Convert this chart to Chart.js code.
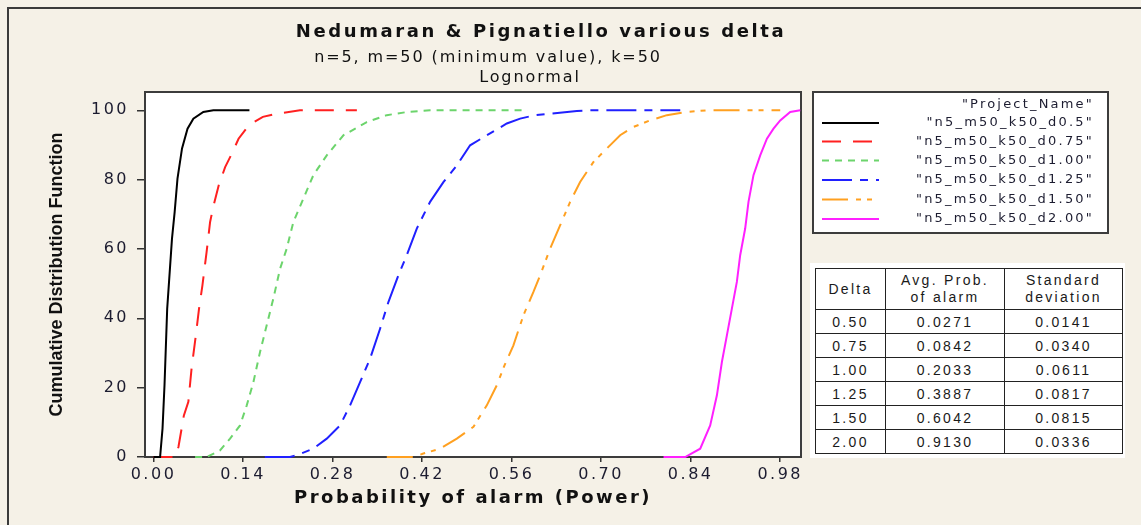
<!DOCTYPE html>
<html>
<head>
<meta charset="utf-8">
<script src="https://cdn.jsdelivr.net/npm/chart.js@4.4.1/dist/chart.umd.min.js"></script>
<style>
  html, body { margin: 0; padding: 0; background: #F5F1E7; }
  #wrap { position: relative; width: 1141px; height: 525px; overflow: hidden; }
  #plot { position: absolute; left: 0; top: 0; }
  #stats { position: absolute; left: 810px; top: 263px; width: 315px; height: 195px; background: #fff; }
  #stats table { position: absolute; left: 5px; top: 5px; border-collapse: collapse;
    font-family: "Liberation Sans", Arial, sans-serif; font-size: 14px; color: #1a1a1a; letter-spacing: 2.3px; }
  #stats td, #stats th { border: 1.5px solid #222; text-align: center; padding: 0; font-weight: normal; height: 23px; }
  #stats th { height: 40px; line-height: 17px; }
</style>
</head>
<body>
<div id="wrap">
  <canvas id="plot" width="1141" height="525"></canvas>
  <div id="stats"><table id="statTable"></table></div>
</div>
<script>
// Axis ticks
const xTicks = [0.00, 0.14, 0.28, 0.42, 0.56, 0.70, 0.84, 0.98];
const yTicks = [0, 20, 40, 60, 80, 100];

// Series names
const seriesNames = ['"n5_m50_k50_d0.5"', '"n5_m50_k50_d0.75"', '"n5_m50_k50_d1.00"',
                     '"n5_m50_k50_d1.25"', '"n5_m50_k50_d1.50"', '"n5_m50_k50_d2.00"'];

// Empirical CDF of the probability of alarm for each delta (power, cumulative %)
const d050Power = [0.000, 0.0103, 0.0141, 0.0172, 0.0214, 0.0289, 0.0331, 0.0375, 0.0446, 0.0532, 0.0623, 0.0779, 0.0936, 0.150];
const d050Cdf   = [0, 0, 8.2, 20.7, 42.8, 63.0, 70.7, 80.3, 89.0, 94.7, 97.6, 99.5, 100, 100];

const d075Power = [0.000, 0.034, 0.039, 0.0475, 0.0545, 0.0595, 0.0662, 0.0712, 0.0765, 0.083, 0.0885, 0.094, 0.102, 0.112, 0.1225, 0.133, 0.149, 0.171, 0.192, 0.229, 0.318];
const d075Cdf   = [0, 0, 2.9, 12.0, 15.9, 25.5, 35.1, 42.8, 49.5, 59.1, 67.8, 72.6, 78.4, 83.6, 87.5, 91.8, 95.7, 98.1, 99.0, 100, 100];

const d100Power = [0.065, 0.0832, 0.104, 0.1197, 0.1353, 0.1458, 0.1562, 0.1666, 0.177, 0.1874, 0.1979, 0.2083, 0.2187, 0.2343, 0.25, 0.2709, 0.2969, 0.3335, 0.3648, 0.396, 0.4325, 0.585];
const d100Cdf   = [0, 0, 1.9, 5.3, 9.1, 14.9, 21.6, 30.3, 38.0, 45.7, 54.3, 60.1, 67.8, 74.5, 81.3, 87.0, 92.8, 96.6, 98.6, 99.5, 100, 100];

const d125Power = [0.174, 0.2135, 0.224, 0.25, 0.2709, 0.2917, 0.3074, 0.323, 0.3387, 0.3543, 0.3673, 0.3829, 0.396, 0.4117, 0.4325, 0.4533, 0.4743, 0.4951, 0.5212, 0.5525, 0.5733, 0.5967, 0.62, 0.662, 0.68, 0.8237];
const d125Cdf   = [0, 0, 0.5, 2.4, 5.3, 9.1, 14.9, 21.6, 28.4, 37.0, 44.7, 52.4, 58.2, 65.9, 73.6, 79.3, 84.1, 89.9, 92.8, 96.2, 97.6, 98.6, 99.0, 99.8, 100, 100];

const d150Power = [0.3648, 0.4064, 0.422, 0.448, 0.4743, 0.5003, 0.5212, 0.5368, 0.549, 0.5628, 0.5785, 0.5941, 0.6046, 0.6202, 0.6358, 0.6515, 0.6671, 0.688, 0.7089, 0.7297, 0.7505, 0.7766, 0.8027, 0.834, 0.8653, 0.98];
const d150Cdf   = [0, 0, 1.0, 2.4, 5.3, 8.7, 14.9, 20.7, 26.5, 32.2, 40.9, 47.6, 52.4, 60.1, 66.8, 73.6, 79.3, 85.1, 89.0, 92.8, 95.2, 97.1, 98.6, 99.5, 100, 100];

const d200Power = [0.7975, 0.8314, 0.8549, 0.8705, 0.881, 0.8888, 0.8966, 0.9044, 0.9122, 0.9174, 0.9252, 0.9304, 0.9382, 0.9487, 0.9592, 0.9695, 0.98, 0.9956, 1.0113];
const d200Cdf   = [0, 0, 2.4, 9.1, 17.8, 27.4, 35.1, 42.8, 50.5, 58.2, 65.9, 73.6, 81.3, 87.0, 91.8, 94.7, 97.1, 99.5, 100];

// Summary statistics table
const deltas   = ['0.50', '0.75', '1.00', '1.25', '1.50', '2.00'];
const avgAlarm = ['0.0271', '0.0842', '0.2033', '0.3887', '0.6042', '0.9130'];
const stdDev   = ['0.0141', '0.0340', '0.0611', '0.0817', '0.0815', '0.0336'];

const pair = (xs, ys) => xs.map((x, i) => ({ x: x, y: ys[i] }));

const styles = [
  { color: '#000000', dash: [] },
  { color: '#FF2020', dash: [19, 12] },
  { color: '#6CD46C', dash: [7, 6] },
  { color: '#2020FF', dash: [30, 8, 8, 8] },
  { color: '#FFA020', dash: [26, 8, 5, 6, 5, 8] },
  { color: '#FF20FF', dash: [] }
];
const seriesData = [
  pair(d050Power, d050Cdf), pair(d075Power, d075Cdf), pair(d100Power, d100Cdf),
  pair(d125Power, d125Cdf), pair(d150Power, d150Cdf), pair(d200Power, d200Cdf)
];

const datasets = seriesData.map((pts, i) => ({
  label: seriesNames[i],
  data: pts,
  showLine: true,
  borderColor: styles[i].color,
  backgroundColor: styles[i].color,
  borderDash: styles[i].dash,
  borderWidth: 2,
  pointRadius: 0,
  tension: 0,
  fill: false,
  clip: 4
}));

// Statistics table (HTML)
(function buildTable() {
  const t = document.getElementById('statTable');
  const colW = [69, 118, 117];
  let html = '<tr><th style="width:' + colW[0] + 'px">Delta</th>' +
             '<th style="width:' + colW[1] + 'px">Avg. Prob.<br>of alarm</th>' +
             '<th style="width:' + colW[2] + 'px">Standard<br>deviation</th></tr>';
  deltas.forEach((d, i) => {
    html += '<tr><td>' + d + '</td><td>' + avgAlarm[i] + '</td><td>' + stdDev[i] + '</td></tr>';
  });
  t.innerHTML = html;
})();

const textColor = '#1c1c30';

const decorPlugin = {
  id: 'decor',
  beforeDraw(chart) {
    const ctx = chart.ctx;
    const a = chart.chartArea;
    ctx.save();
    // outer frame
    ctx.fillStyle = '#3a3a3a';
    ctx.fillRect(7, 7, 1141, 2);
    ctx.fillRect(7, 7, 2, 525);
    // plot background
    ctx.fillStyle = '#ffffff';
    ctx.fillRect(a.left, a.top, a.right - a.left, a.bottom - a.top);
    ctx.restore();
    // spaced lettering for tick labels
    ctx.letterSpacing = '2.5px';
    const ys = chart.scales.y;
    if (ys && !ys._plainTitle) {
      const orig = ys.drawTitle.bind(ys);
      ys.drawTitle = function () {
        const c = this.ctx;
        const prev = c.letterSpacing;
        c.letterSpacing = '0px';
        orig();
        c.letterSpacing = prev;
      };
      ys._plainTitle = true;
    }
  },
  beforeDatasetsDraw(chart) {
    // plot frame, under the curves so the flat tails stay visible on the axis
    const ctx = chart.ctx;
    const a = chart.chartArea;
    ctx.save();
    ctx.strokeStyle = '#3c3c3c';
    ctx.lineWidth = 2;
    ctx.strokeRect(a.left, a.top, a.right - a.left, a.bottom - a.top);
    ctx.restore();
  },
  afterDraw(chart) {
    const ctx = chart.ctx;
    ctx.save();
    // titles
    ctx.fillStyle = '#111111';
    ctx.textAlign = 'center';
    ctx.textBaseline = 'alphabetic';
    ctx.letterSpacing = '2.6px';
    ctx.font = 'bold 18px "DejaVu Sans"';
    ctx.fillText('Nedumaran & Pignatiello various delta', 541, 37);
    ctx.font = '16px "DejaVu Sans"';
    ctx.letterSpacing = '1.9px';
    ctx.fillText('n=5, m=50 (minimum value), k=50', 488, 62);
    ctx.fillText('Lognormal', 530, 82);

    // legend box
    const lx = 813, ly = 92, lw = 295, lh = 141;
    ctx.fillStyle = '#ffffff';
    ctx.fillRect(lx, ly, lw, lh);
    ctx.strokeStyle = '#3c3c3c';
    ctx.lineWidth = 2;
    ctx.strokeRect(lx, ly, lw, lh);
    ctx.font = '13px "DejaVu Sans"';
    ctx.letterSpacing = '2.2px';
    ctx.textAlign = 'right';
    ctx.textBaseline = 'middle';
    ctx.fillStyle = textColor;
    ctx.fillText('"Project_Name"', 1094, 105);
    const rowY = [123, 141.5, 160.5, 180, 199.5, 219];
    chart.data.datasets.forEach((ds, i) => {
      ctx.save();
      ctx.strokeStyle = ds.borderColor;
      ctx.lineWidth = 2;
      ctx.setLineDash(ds.borderDash || []);
      ctx.beginPath();
      ctx.moveTo(822, rowY[i]);
      ctx.lineTo(879, rowY[i]);
      ctx.stroke();
      ctx.restore();
      ctx.fillStyle = textColor;
      ctx.fillText(ds.label, 1094, rowY[i]);
    });
    ctx.restore();
  }
};

new Chart(document.getElementById('plot'), {
  type: 'scatter',
  data: { datasets: datasets },
  plugins: [decorPlugin],
  options: {
    responsive: false,
    animation: false,
    devicePixelRatio: 1,
    layout: { padding: { top: 92, left: 0, right: 340, bottom: 0 } },
    plugins: { legend: { display: false }, title: { display: false }, tooltip: { enabled: false } },
    scales: {
      x: {
        type: 'linear',
        min: -0.0133,
        max: 1.0125,
        afterBuildTicks: s => { s.ticks = xTicks.map(v => ({ value: v })); },
        afterFit: s => { s.height = 68; },
        ticks: {
          callback: v => Number(v).toFixed(2),
          font: { family: 'DejaVu Sans', size: 16 },
          color: textColor,
          padding: 3,
          autoSkip: false,
          maxRotation: 0
        },
        grid: { display: true, drawOnChartArea: false, drawTicks: true, tickLength: 5, color: '#333333', lineWidth: 1.5 },
        border: { display: false },
        title: {
          display: true,
          text: 'Probability of alarm (Power)',
          font: { family: 'DejaVu Sans', size: 18, weight: 'bold' },
          color: '#111111',
          padding: { top: 0, bottom: 16 }
        }
      },
      y: {
        type: 'linear',
        min: 0,
        max: 105.28,
        afterBuildTicks: s => { s.ticks = yTicks.map(v => ({ value: v })); },
        afterFit: s => { s.width = 145; },
        ticks: {
          callback: v => String(v),
          font: { family: 'DejaVu Sans', size: 16 },
          color: textColor,
          padding: 8
        },
        grid: { display: true, drawOnChartArea: false, drawTicks: true, tickLength: 8, color: '#333333', lineWidth: 1.5 },
        border: { display: false },
        title: {
          display: true,
          text: 'Cumulative Distribution Function',
          font: { family: '"Liberation Sans", Arial, sans-serif', size: 18, weight: 'bold' },
          color: '#111111',
          padding: { top: 46, bottom: 0 }
        }
      }
    }
  }
});
</script>
</body>
</html>
